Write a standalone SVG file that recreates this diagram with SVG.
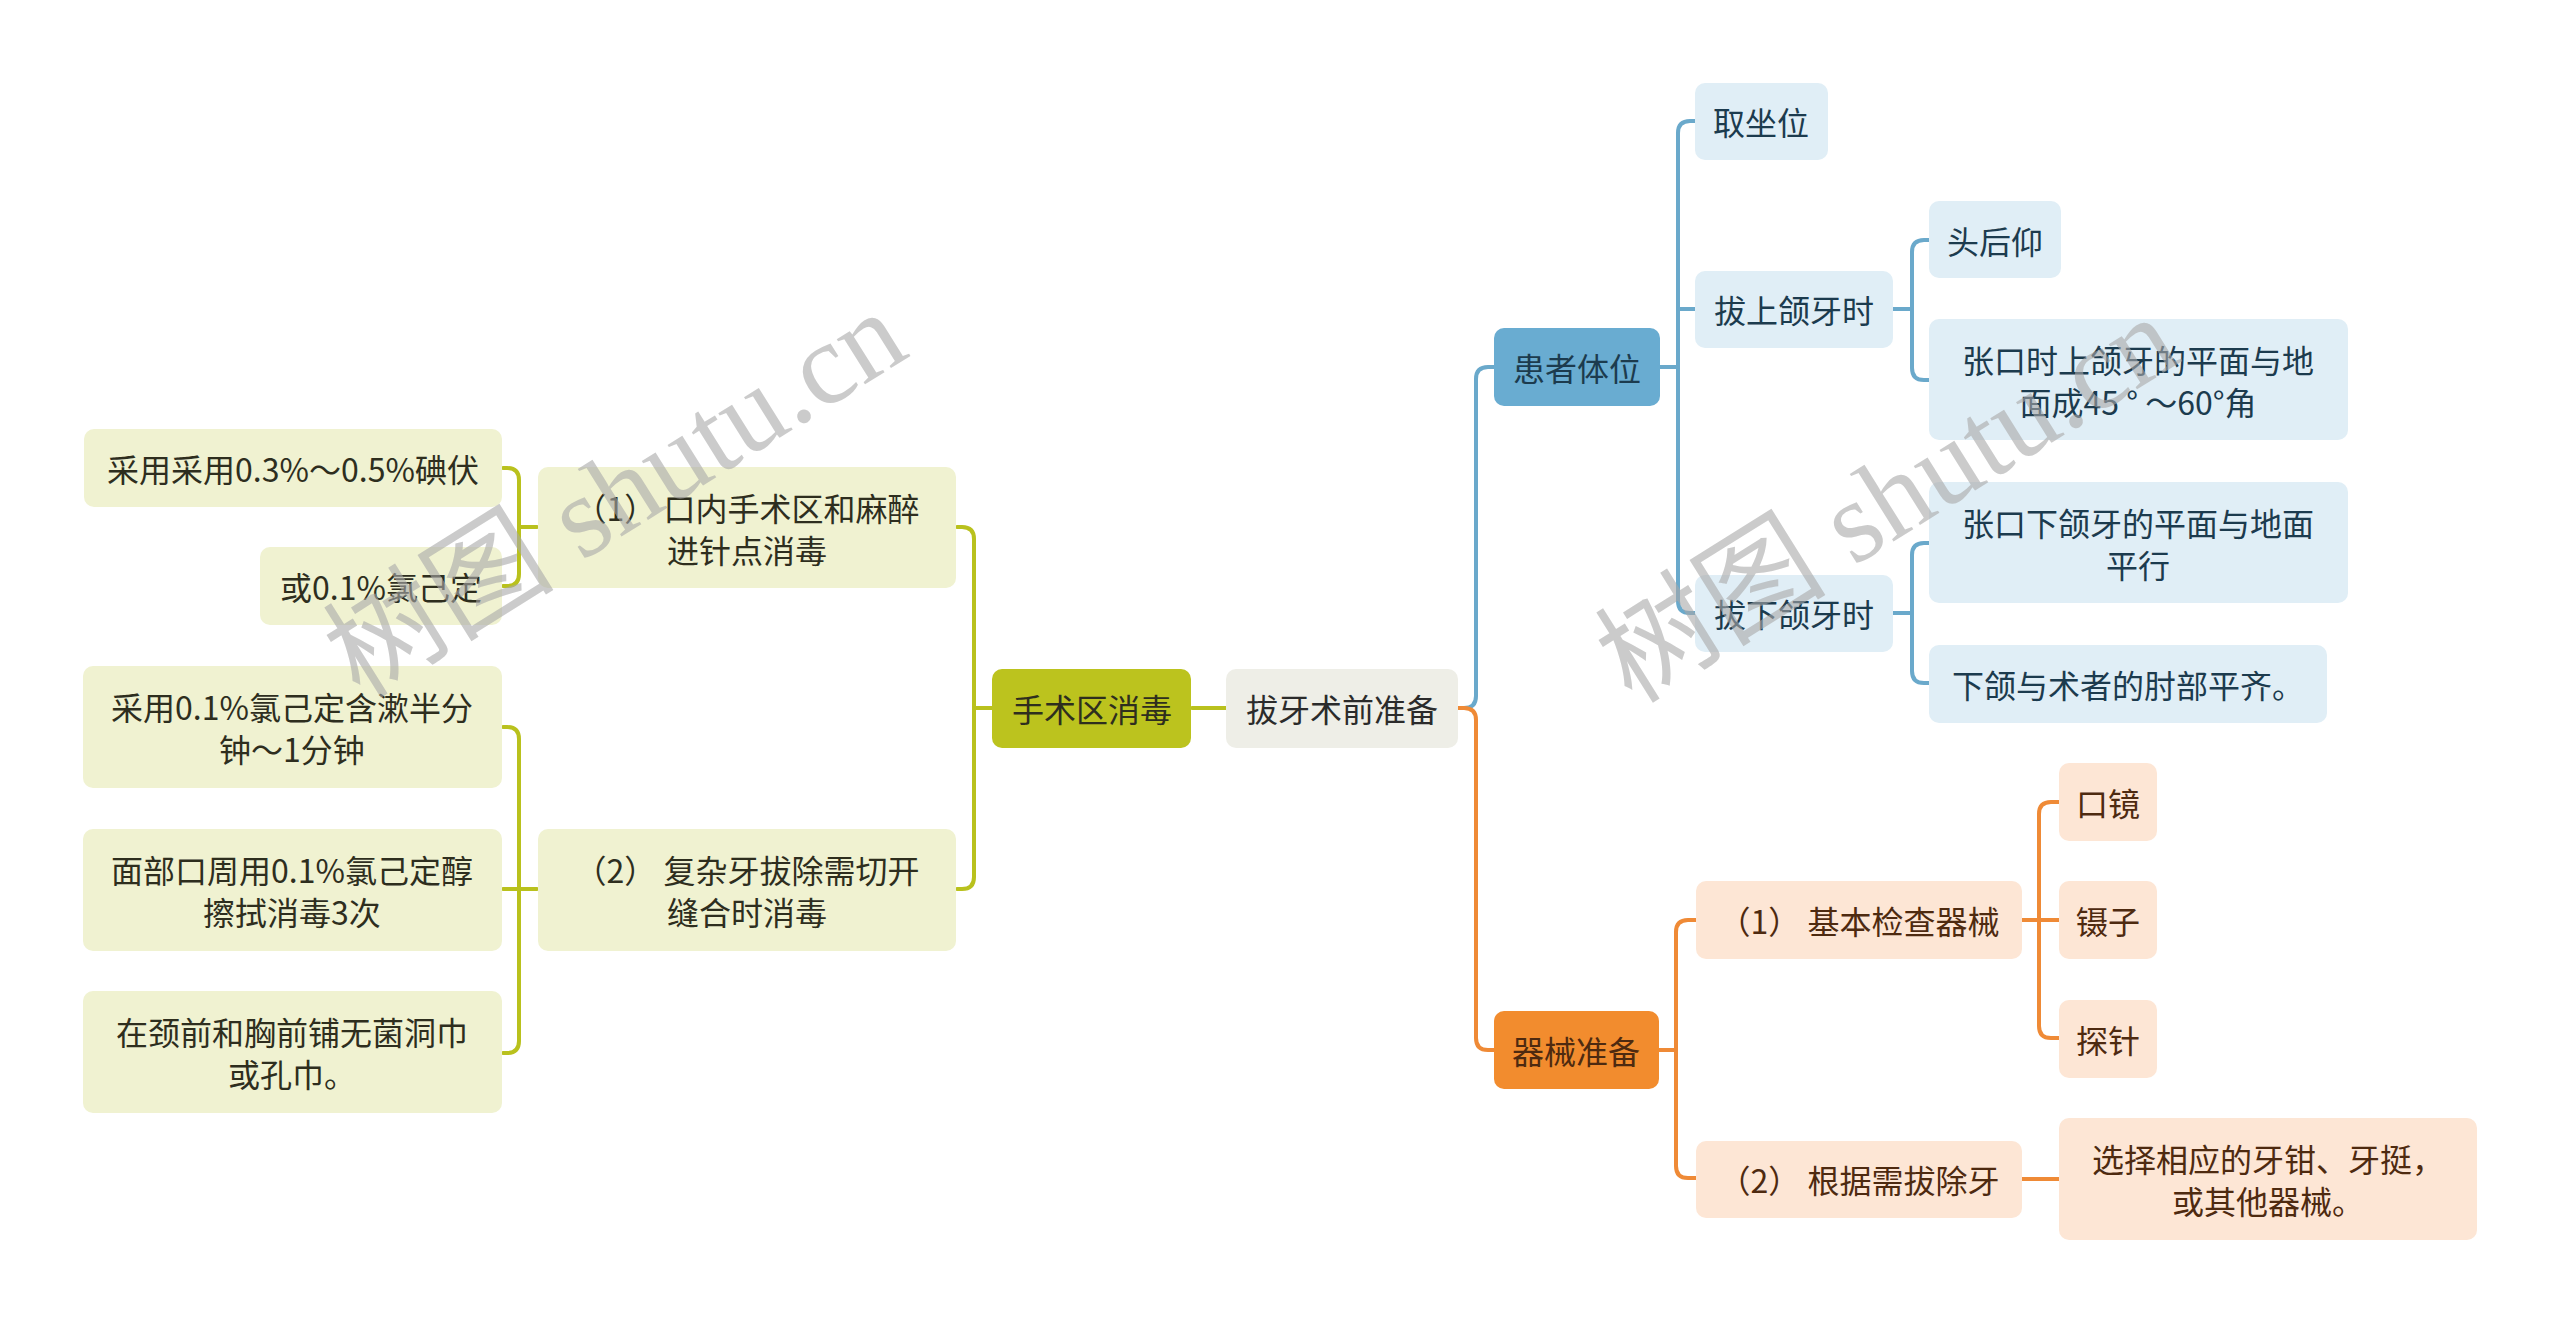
<svg xmlns="http://www.w3.org/2000/svg" width="2560" height="1323" viewBox="0 0 2560 1323">
<style>
text{font-family:"Noto Sans CJK SC","Noto Sans",sans-serif;font-size:32px;text-anchor:middle;dominant-baseline:central}
.ln{fill:none;stroke-width:4;stroke-linecap:round;stroke-linejoin:round}
.g{stroke:#b9c11d}.b{stroke:#6aa9cb}.o{stroke:#ef8a36}
.root{fill:#eeeee7}.rt{fill:#2b2b2b}
.gm{fill:#bcc31e}.gc{fill:#f0f2d1}.gt{fill:#2e2e1e}
.bm{fill:#69acd1}.bc{fill:#e0eef6}.bt{fill:#1c3b4e}
.om{fill:#f28c2e}.oc{fill:#fde6d5}.ot{fill:#4e2a10}
.wm{font-family:"Liberation Serif","Noto Sans CJK SC",serif;font-size:116px;fill:#a8a8a8;fill-opacity:0.6;text-anchor:start;dominant-baseline:auto}
</style>
<rect width="2560" height="1323" fill="#ffffff"/>
<g id="connectors">
<path class="ln g" d="M1226,708 H1192"/>
<path class="ln g" d="M992,708 H974"/>
<path class="ln g" d="M957,527 H962 Q974,527 974,539 V877 Q974,889 962,889 H957"/>
<path class="ln g" d="M537,527 H519"/>
<path class="ln g" d="M503,468 H507 Q519,468 519,480 V574 Q519,586 507,586 H503"/>
<path class="ln g" d="M537,889 H503"/>
<path class="ln g" d="M503,727 H507 Q519,727 519,739 V1041 Q519,1053 507,1053 H503"/>
<path class="ln b" d="M1458,708 H1464 Q1476,708 1476,696 V379 Q1476,367 1488,367 H1494"/>
<path class="ln b" d="M1660,367 H1678"/>
<path class="ln b" d="M1695,121 H1690 Q1678,121 1678,133 V601 Q1678,613 1690,613 H1695"/>
<path class="ln b" d="M1678,309 H1695"/>
<path class="ln b" d="M1893,309 H1912"/>
<path class="ln b" d="M1929,240 H1924 Q1912,240 1912,252 V368 Q1912,380 1924,380 H1929"/>
<path class="ln b" d="M1893,613 H1912"/>
<path class="ln b" d="M1929,543 H1924 Q1912,543 1912,555 V671 Q1912,683 1924,683 H1929"/>
<path class="ln o" d="M1458,708 H1464 Q1476,708 1476,720 V1038 Q1476,1050 1488,1050 H1494"/>
<path class="ln o" d="M1659,1050 H1676"/>
<path class="ln o" d="M1696,920 H1688 Q1676,920 1676,932 V1166 Q1676,1178 1688,1178 H1696"/>
<path class="ln o" d="M2022,920 H2059"/>
<path class="ln o" d="M2059,802 H2051 Q2039,802 2039,814 V1026 Q2039,1038 2051,1038 H2059"/>
<path class="ln o" d="M2022,1179 H2059"/>
</g>
<g id="root"><rect class="root" x="1226" y="669" width="232" height="79" rx="10"/><text class="rt" x="1342" y="708">拔牙术前准备</text></g>
<g id="n-disinfect"><rect class="gm" x="992" y="669" width="199" height="79" rx="10"/><text class="gt" x="1092" y="708">手术区消毒</text></g>
<g id="n-d1"><rect class="gc" x="538" y="467" width="418" height="121" rx="10"/><text class="gt" x="747" y="507">（1） 口内手术区和麻醉</text><text class="gt" x="747" y="549">进针点消毒</text></g>
<g id="n-d2"><rect class="gc" x="538" y="829" width="418" height="122" rx="10"/><text class="gt" x="747" y="869">（2） 复杂牙拔除需切开</text><text class="gt" x="747" y="911">缝合时消毒</text></g>
<g id="n-d1a"><rect class="gc" x="84" y="429" width="418" height="78" rx="10"/><text class="gt" x="293" y="468">采用采用0.3%～0.5%碘伏</text></g>
<g id="n-d1b"><rect class="gc" x="260" y="547" width="242" height="78" rx="10"/><text class="gt" x="381" y="586">或0.1%氯己定</text></g>
<g id="n-d2a"><rect class="gc" x="83" y="666" width="419" height="122" rx="10"/><text class="gt" x="292" y="706">采用0.1%氯己定含漱半分</text><text class="gt" x="292" y="748">钟～1分钟</text></g>
<g id="n-d2b"><rect class="gc" x="83" y="829" width="419" height="122" rx="10"/><text class="gt" x="292" y="869">面部口周用0.1%氯己定醇</text><text class="gt" x="292" y="911">擦拭消毒3次</text></g>
<g id="n-d2c"><rect class="gc" x="83" y="991" width="419" height="122" rx="10"/><text class="gt" x="292" y="1031">在颈前和胸前铺无菌洞巾</text><text class="gt" x="292" y="1073">或孔巾。</text></g>
<g id="n-position"><rect class="bm" x="1494" y="328" width="166" height="78" rx="10"/><text class="bt" x="1577" y="367">患者体位</text></g>
<g id="n-p1"><rect class="bc" x="1695" y="83" width="133" height="77" rx="10"/><text class="bt" x="1761" y="121">取坐位</text></g>
<g id="n-p2"><rect class="bc" x="1695" y="271" width="198" height="77" rx="10"/><text class="bt" x="1794" y="309">拔上颌牙时</text></g>
<g id="n-p3"><rect class="bc" x="1695" y="575" width="198" height="77" rx="10"/><text class="bt" x="1794" y="613">拔下颌牙时</text></g>
<g id="n-p2a"><rect class="bc" x="1929" y="201" width="132" height="77" rx="10"/><text class="bt" x="1995" y="240">头后仰</text></g>
<g id="n-p2b"><rect class="bc" x="1929" y="319" width="419" height="121" rx="10"/><text class="bt" x="2138" y="359">张口时上颌牙的平面与地</text><text class="bt" x="2138" y="401">面成45 ° ～60°角</text></g>
<g id="n-p3a"><rect class="bc" x="1929" y="482" width="419" height="121" rx="10"/><text class="bt" x="2138" y="522">张口下颌牙的平面与地面</text><text class="bt" x="2138" y="564">平行</text></g>
<g id="n-p3b"><rect class="bc" x="1929" y="645" width="398" height="78" rx="10"/><text class="bt" x="2128" y="684">下颌与术者的肘部平齐。</text></g>
<g id="n-instr"><rect class="om" x="1494" y="1011" width="165" height="78" rx="10"/><text class="ot" x="1576" y="1050">器械准备</text></g>
<g id="n-i1"><rect class="oc" x="1696" y="881" width="326" height="78" rx="10"/><text class="ot" x="1859" y="920">（1） 基本检查器械</text></g>
<g id="n-i2"><rect class="oc" x="1696" y="1141" width="326" height="77" rx="10"/><text class="ot" x="1859" y="1179">（2） 根据需拔除牙</text></g>
<g id="n-i1a"><rect class="oc" x="2059" y="763" width="98" height="78" rx="10"/><text class="ot" x="2108" y="802">口镜</text></g>
<g id="n-i1b"><rect class="oc" x="2059" y="881" width="98" height="78" rx="10"/><text class="ot" x="2108" y="920">镊子</text></g>
<g id="n-i1c"><rect class="oc" x="2059" y="1000" width="98" height="78" rx="10"/><text class="ot" x="2108" y="1039">探针</text></g>
<g id="n-i2a"><rect class="oc" x="2059" y="1118" width="418" height="122" rx="10"/><text class="ot" x="2268" y="1158">选择相应的牙钳、牙挺，</text><text class="ot" x="2268" y="1200">或其他器械。</text></g>
<g id="watermark">
<text class="wm" transform="translate(360,700) rotate(-32)">树图 shutu.cn</text>
<text class="wm" transform="translate(1632,705) rotate(-32)">树图 shutu.cn</text>
</g>
</svg>
